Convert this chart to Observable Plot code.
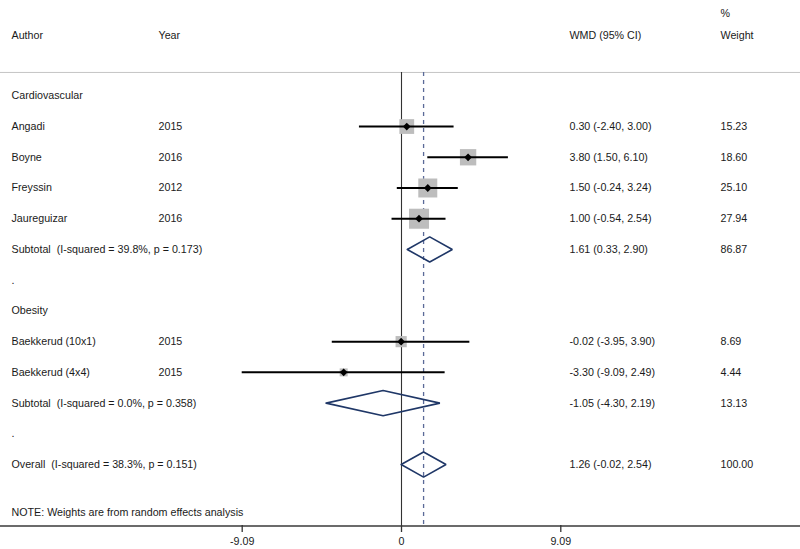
<!DOCTYPE html>
<html>
<head>
<meta charset="utf-8">
<script src="https://cdn.jsdelivr.net/npm/d3@7"></script>
<script src="https://cdn.jsdelivr.net/npm/@observablehq/plot@0.6"></script>
<style>
  body { margin: 0; background: #fff; }
  svg text { white-space: pre; }
</style>
</head>
<body>
<div id="chart"></div>
<script>
// ---- data ----
const rowLabels = [
  "Cardiovascular", "Angadi", "Boyne", "Freyssin", "Jaureguizar",
  "Subtotal  (I-squared = 39.8%, p = 0.173)", ".", "Obesity",
  "Baekkerud (10x1)", "Baekkerud (4x4)",
  "Subtotal  (I-squared = 0.0%, p = 0.358)", ".",
  "Overall  (I-squared = 38.3%, p = 0.151)"
];
const rowYears   = ["", "2015", "2016", "2012", "2016", "", "", "", "2015", "2015", "", "", ""];
const rowKind    = ["group", "study", "study", "study", "study", "sub", "blank", "group", "study", "study", "sub", "blank", "overall"];
const rowEst     = [null, 0.30, 3.80, 1.50, 1.00, 1.61, null, null, -0.02, -3.30, -1.05, null, 1.26];
const rowLo      = [null, -2.40, 1.50, -0.24, -0.54, 0.33, null, null, -3.95, -9.09, -4.30, null, -0.02];
const rowHi      = [null, 3.00, 6.10, 3.24, 2.54, 2.90, null, null, 3.90, 2.49, 2.19, null, 2.54];
const rowWeight  = [null, 15.23, 18.60, 25.10, 27.94, 86.87, null, null, 8.69, 4.44, 13.13, null, 100.00];
const rowCI      = ["", "0.30 (-2.40, 3.00)", "3.80 (1.50, 6.10)", "1.50 (-0.24, 3.24)", "1.00 (-0.54, 2.54)",
                    "1.61 (0.33, 2.90)", "", "", "-0.02 (-3.95, 3.90)", "-3.30 (-9.09, 2.49)",
                    "-1.05 (-4.30, 2.19)", "", "1.26 (-0.02, 2.54)"];
const rowWeightLabel = ["", "15.23", "18.60", "25.10", "27.94", "86.87", "", "", "8.69", "4.44", "13.13", "", "100.00"];
const headers = [
  {col: "author", text: "Author", line: 1},
  {col: "year", text: "Year", line: 1},
  {col: "ci", text: "WMD (95% CI)", line: 1},
  {col: "weight", text: "%", line: 0},
  {col: "weight", text: "Weight", line: 1}
];
const noteText = "NOTE: Weights are from random effects analysis";
const tickValues = [-9.09, 0, 9.09];
const tickLabels = ["-9.09", "0", "9.09"];

// ---- build table ----
const rows = rowLabels.map((label, i) => ({
  row: i, label, year: rowYears[i], kind: rowKind[i],
  est: rowEst[i], lo: rowLo[i], hi: rowHi[i], weight: rowWeight[i],
  ci: rowCI[i], wlabel: rowWeightLabel[i]
}));
const studies = rows.filter(d => d.kind === "study");
const summaries = rows.filter(d => d.kind === "sub" || d.kind === "overall");
const overall = rows.find(d => d.kind === "overall");
const H = 0.41; // diamond half-height in row units
const diamondPts = summaries.flatMap(d => [
  {id: d.row, x: d.lo, y: d.row},
  {id: d.row, x: d.est, y: d.row - H},
  {id: d.row, x: d.hi, y: d.row},
  {id: d.row, x: d.est, y: d.row + H},
  {id: d.row, x: d.lo, y: d.row}
]);

// layout (styling) constants
const colX = {author: 11, year: 158, ci: 569, weight: 720};
const headerRow = [-2.66, -1.96];
const sepRow = -0.76;
const axisRow = 14;
const noteRow = 13.56;
const font = "Liberation Sans, Helvetica, Arial, sans-serif";
const textColor = "#1a1a1a";

const textCols = [
  Plot.text(rows, {y: "row", text: "label", frameAnchor: "left", dx: colX.author, textAnchor: "start", fill: textColor}),
  Plot.text(rows, {y: "row", text: "year", frameAnchor: "left", dx: colX.year, textAnchor: "start", fill: textColor}),
  Plot.text(rows, {y: "row", text: "ci", frameAnchor: "left", dx: colX.ci, textAnchor: "start", fill: textColor}),
  Plot.text(rows, {y: "row", text: "wlabel", frameAnchor: "left", dx: colX.weight, textAnchor: "start", fill: textColor}),
  ...headers.map(h => Plot.text([h], {y: () => headerRow[h.line], text: "text", frameAnchor: "left", dx: colX[h.col], textAnchor: "start", fill: textColor})),
  Plot.text([noteText], {y: () => noteRow, text: d => d, frameAnchor: "left", dx: colX.author, textAnchor: "start", fill: textColor})
];

const chart = Plot.plot({
  width: 800,
  height: 549,
  marginLeft: 0,
  marginRight: 0,
  marginTop: 0,
  marginBottom: 24,
  style: {fontFamily: font, fontSize: "10.7px", background: "#fff"},
  x: {domain: [-9.09, 9.09], range: [241.7, 560.3], axis: null},
  y: {domain: [0, 14], range: [95.3, 95.3 + 14 * 30.73], axis: null},
  r: {type: "sqrt", domain: [0, 27.94], range: [0, 11.3]},
  marks: [
    Plot.ruleY([sepRow], {stroke: "#c4c4c4", strokeWidth: 1}),
    Plot.ruleX([0], {y1: sepRow, y2: axisRow, stroke: "#333", strokeWidth: 1.1}),
    Plot.ruleX([overall], {x: "est", y1: sepRow, y2: axisRow, stroke: "#5a6a98", strokeWidth: 1.3, strokeDasharray: "4,4"}),
    Plot.dot(studies, {x: "est", y: "row", r: "weight", symbol: "square", fill: "#bdbdbd", stroke: null}),
    Plot.ruleY(studies, {y: "row", x1: "lo", x2: "hi", stroke: "#000", strokeWidth: 2}),
    Plot.dot(studies, {x: "est", y: "row", r: 3.5, symbol: "diamond2", fill: "#000", stroke: null}),
    Plot.line(diamondPts, {x: "x", y: "y", z: "id", stroke: "#1f3767", strokeWidth: 1.6, curve: "linear", strokeLinejoin: "miter"}),
    Plot.ruleY([axisRow], {stroke: "#3a3a3a", strokeWidth: 1.6}),
    Plot.axisX({
      anchor: "bottom",
      ticks: tickValues,
      tickFormat: (d) => tickLabels[tickValues.indexOf(d)],
      tickSize: 7,
      tickPadding: 5,
      stroke: "#333",
      strokeWidth: 1.3,
      fill: textColor,
      fontSize: 10.7,
      label: null
    }),
    ...textCols
  ]
});
document.getElementById("chart").appendChild(chart);
</script>
</body>
</html>
